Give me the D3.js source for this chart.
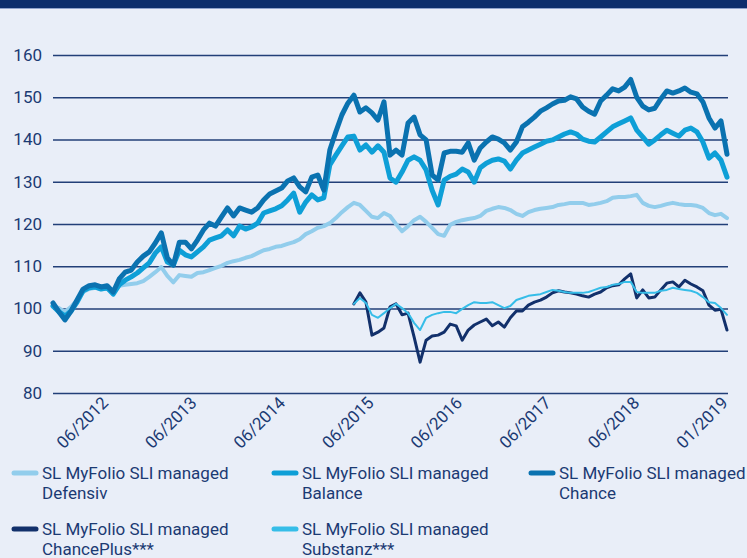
<!DOCTYPE html>
<html><head><meta charset="utf-8">
<script src="https://cdn.jsdelivr.net/npm/d3@7"></script>
<style>body{margin:0;background:#e9eef8}svg{display:block}</style>
</head><body>
<svg id="c" width="747" height="558"></svg>
<script>
const yTicks = [80, 90, 100, 110, 120, 130, 140, 150, 160];
const xTickLabels = ["06/2012","06/2013","06/2014","06/2015","06/2016","06/2017","06/2018","01/2019"];
const seriesNames = ["SL MyFolio SLI managed\nDefensiv","SL MyFolio SLI managed\nBalance","SL MyFolio SLI managed\nChance","SL MyFolio SLI managed\nChancePlus***","SL MyFolio SLI managed\nSubstanz***"];
const lateStart = 50;
const defensiv = [100.4,100.1,99.2,100.4,102.0,103.9,104.6,104.9,104.6,104.6,
103.9,105.4,105.6,105.8,106.0,106.5,107.5,108.6,109.8,107.7,
106.2,107.9,107.7,107.5,108.4,108.6,109.1,109.6,110.1,110.8,
111.2,111.5,112.0,112.4,113.1,113.8,114.1,114.6,114.8,115.3,
115.7,116.4,117.6,118.3,119.1,119.5,120.2,121.4,122.8,124.0,
125.0,124.5,123.1,121.7,121.4,122.6,121.9,120.0,118.3,119.5,
120.9,121.7,120.5,119.1,117.6,117.2,119.8,120.5,120.9,121.2,
121.4,121.9,123.1,123.6,124.0,123.8,123.3,122.4,121.9,122.8,
123.3,123.6,123.8,124.0,124.5,124.7,125.0,125.0,125.0,124.5,
124.7,125.0,125.4,126.2,126.4,126.4,126.6,126.9,125.0,124.3,
124.0,124.3,124.7,125.0,124.7,124.5,124.5,124.3,123.8,122.6,
122.1,122.4,121.4];
const balance = [100.6,99.2,98.2,99.4,101.5,104.2,104.9,105.1,104.6,104.9,
103.4,105.6,106.7,107.5,108.4,109.6,110.8,113.1,114.6,111.0,
110.3,113.8,112.7,112.2,113.4,114.6,116.2,116.7,117.2,118.6,
117.2,119.5,118.8,119.3,120.2,122.6,123.1,123.6,124.3,125.7,
127.3,122.8,125.2,126.9,125.7,126.2,134.0,136.3,138.5,140.6,
140.8,137.5,138.7,137.0,138.5,137.0,130.9,129.9,132.3,135.1,
135.9,135.1,132.8,128.0,124.5,130.4,131.3,131.8,133.0,132.3,
129.9,133.3,134.4,135.1,135.4,134.9,133.0,135.1,136.8,137.5,
138.2,138.9,139.6,139.9,140.6,141.3,141.8,141.3,140.1,139.6,
139.4,140.6,141.8,143.0,143.7,144.4,145.1,142.2,140.6,138.9,
139.9,141.1,142.2,141.5,140.8,142.2,142.7,141.8,139.4,135.6,
136.8,135.1,131.1];
const chance = [101.3,99.2,97.3,99.4,102.0,104.6,105.4,105.6,105.1,105.4,
103.9,107.0,108.6,109.1,111.0,112.4,113.4,115.5,117.9,112.0,
110.3,115.7,115.7,114.1,116.2,118.6,120.2,119.5,121.7,123.8,
121.9,123.8,123.3,122.8,123.8,125.7,127.1,127.8,128.5,130.2,
130.9,128.8,127.6,131.1,131.6,128.0,137.5,141.8,145.8,148.6,
150.5,146.5,147.5,146.3,144.6,148.9,136.3,137.5,136.3,143.9,
145.3,141.1,139.9,131.6,130.4,136.8,137.2,137.2,137.0,139.2,
135.1,138.0,139.4,140.6,140.1,139.2,137.5,139.4,143.0,144.1,
145.3,146.7,147.5,148.4,149.1,149.3,150.1,149.6,147.7,146.7,
146.0,149.1,150.5,152.0,151.5,152.4,154.2,150.0,147.9,147.0,
147.4,149.6,151.5,151.0,151.5,152.2,151.2,150.8,148.9,145.1,
142.7,144.4,136.5];
const chancePlus = [101.1,103.7,101.5,93.7,94.4,95.4,100.4,101.1,98.5,98.9,
93.3,87.3,92.5,93.5,93.7,94.4,96.3,95.9,92.5,94.9,
96.1,96.8,97.5,95.9,96.8,95.6,97.8,99.4,99.4,100.8,
101.5,102.0,102.7,103.7,104.2,103.9,103.7,103.4,103.0,102.7,
103.4,103.9,104.9,105.4,105.6,107.0,108.2,102.5,104.4,102.5,
102.7,104.4,106.0,106.3,105.1,106.7,105.8,105.1,104.2,100.8,
99.6,99.8,94.9];
const substanz = [101.1,102.5,101.3,98.5,97.8,98.9,100.1,101.1,100.1,98.9,
96.6,94.9,97.8,98.5,98.9,99.2,99.2,98.9,99.9,100.8,
101.5,101.3,101.3,101.5,100.8,100.1,100.6,102.0,102.5,103.0,
103.2,103.4,103.9,104.4,104.2,103.9,103.7,103.7,103.7,103.9,
104.4,104.9,105.1,105.6,105.8,106.3,106.3,103.9,103.7,103.7,
103.7,104.2,104.4,104.9,104.6,104.4,104.2,103.7,102.7,101.5,
101.3,100.1,98.5];

const W = 747, H = 558;
const svg = d3.select("#c");
const FONT = "Roboto, 'Noto Sans', sans-serif";
const TXT = "#1b3a73";
svg.append("rect").attr("width", W).attr("height", H).attr("fill", "#e9eef8");
svg.append("rect").attr("width", W).attr("height", 8).attr("fill", "#0c2e6c");
svg.append("line").attr("x1",0).attr("x2",W).attr("y1",8.5).attr("y2",8.5).attr("stroke","#8fa3cc").attr("stroke-width",1);

const nPts = chance.length;
const x = d3.scaleLinear().domain([0, nPts - 1]).range([53, 727]);
const y = d3.scaleLinear().domain([80, 160]).range([393, 55]);

const yAxis = d3.axisLeft(y).tickValues(yTicks).tickSize(-(728 - 53)).tickPadding(11).tickFormat(d3.format("d"));
const gy = svg.append("g").attr("transform", "translate(53,0)").call(yAxis);
gy.select(".domain").remove();
gy.selectAll(".tick line").attr("stroke", "#223f78").attr("stroke-width", 1.6);
gy.selectAll(".tick text").attr("fill", TXT).attr("font-family", FONT).attr("font-size", 17).attr("x", -11);

const tickPos = d3.scaleLinear().domain([0, xTickLabels.length - 1]).range([9, nPts - 1]);
svg.append("g").selectAll("text").data(xTickLabels).join("text")
  .attr("transform", (d, i) => `translate(${x(tickPos(i)) + 2},${404}) rotate(-45)`)
  .attr("text-anchor", "end")
  .attr("fill", TXT).attr("font-family", FONT).attr("font-size", 17)
  .text(d => d);

const colors = ["#92cdec", "#0e9fd7", "#0a72b0", "#12306b", "#36bde8"];
const widths = [4, 5, 5, 3, 2];
const series = [
  {vals: defensiv, off: 0},
  {vals: balance, off: 0},
  {vals: chance, off: 0},
  {vals: chancePlus, off: lateStart},
  {vals: substanz, off: lateStart}
];
const line = d3.line().x(d => x(d[0])).y(d => y(d[1]));
series.forEach((s, k) => {
  svg.append("path")
    .datum(s.vals.map((v, i) => [i + s.off, v]))
    .attr("d", line).attr("fill", "none")
    .attr("stroke", colors[k]).attr("stroke-width", widths[k])
    .attr("stroke-linejoin", "round").attr("stroke-linecap", "round");
});

const legPos = [[12, 473], [272, 473], [529, 473], [12, 529], [272, 529]];
const lg = svg.append("g").selectAll("g").data(seriesNames).join("g")
  .attr("transform", (d, i) => `translate(${legPos[i][0]},${legPos[i][1]})`);
lg.append("line").attr("x1", 2).attr("x2", 24).attr("y1", 0).attr("y2", 0)
  .attr("stroke", (d, i) => colors[i]).attr("stroke-width", 5).attr("stroke-linecap", "round");
lg.append("text").attr("x", 30).attr("y", 6)
  .attr("fill", TXT).attr("font-family", FONT).attr("font-size", 17)
  .selectAll("tspan").data(d => d.split("\n")).join("tspan")
  .attr("x", 30).attr("dy", (d, i) => i === 0 ? 0 : 20).text(d => d);
</script>
</body></html>
